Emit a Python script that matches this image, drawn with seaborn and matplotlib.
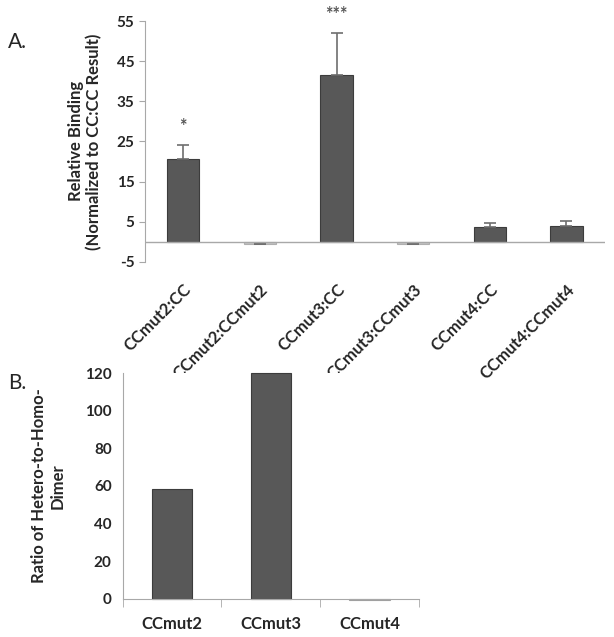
import numpy as np
import pandas as pd
import matplotlib
matplotlib.use("Agg")
import matplotlib.pyplot as plt
import seaborn as sns

# Panel A data
pairs = ["CCmut2:CC", "CCmut2:CCmut2", "CCmut3:CC", "CCmut3:CCmut3", "CCmut4:CC", "CCmut4:CCmut4"]
binding = [20.5, -0.6, 41.5, -0.6, 3.7, 4.0]
binding_err = [3.5, 0.0, 10.5, 0.0, 1.0, 1.2]
stars = ["*", "", "***", "", "", ""]

# Panel B data
mutants = ["CCmut2", "CCmut3", "CCmut4"]
ratio = [58.5, 120.0, -0.8]

sns.set_style("white")
plt.rcParams["font.family"] = ["Lato", "DejaVu Sans"]
plt.rcParams["font.weight"] = "bold"
plt.rcParams["axes.unicode_minus"] = False

dark = "#585858"
light = "#c4c4c4"
axis_col = "#a8a8a8"

fig = plt.figure(figsize=(6.14, 6.37), dpi=100)

# ---- Panel A ----
ax1 = fig.add_axes([0.236, 0.589, 0.749, 0.378])
dfa = pd.DataFrame({"pair": pairs, "val": binding})
cols_a = [dark if v > 0 else light for v in binding]
sns.barplot(data=dfa, x="pair", y="val", hue="pair", palette=cols_a, legend=False,
            width=0.42, edgecolor="#3c3c3c", linewidth=0.8, ax=ax1)
for p, v in zip(ax1.patches, binding):
    if v < 0:
        p.set_edgecolor("#b0b0b0")
xs = np.arange(len(pairs))
ax1.errorbar(xs, binding, yerr=[np.zeros(len(pairs)), binding_err], fmt="none",
             ecolor="#6e6e6e", elinewidth=1.2, capsize=4, capthick=1.2)
for x, v, e, s in zip(xs, binding, binding_err, stars):
    if s:
        ax1.text(x, v + e + 2.5, s, ha="center", va="bottom", fontsize=13, color="#555555")
ax1.set_ylim(-5, 55)
ax1.set_xlim(-0.5, 5.5)
ax1.set_yticks([-5, 5, 15, 25, 35, 45, 55])
ax1.axhline(0, color=axis_col, lw=1)
for sp in ["top", "right", "bottom"]:
    ax1.spines[sp].set_visible(False)
ax1.spines["left"].set_color(axis_col)
ax1.tick_params(axis="y", length=4, color=axis_col, labelsize=11, left=True)
ax1.tick_params(axis="x", length=0, labelsize=12, pad=14)
plt.setp(ax1.get_xticklabels(), rotation=45, ha="right", rotation_mode="anchor", fontweight="bold")
plt.setp(ax1.get_yticklabels(), fontweight="bold")
ax1.set_xlabel("")
ax1.set_ylabel("Relative Binding\n(Normalized to CC:CC Result)", fontsize=12, fontweight="bold", labelpad=10)
fig.text(0.013, 0.925, "A.", fontsize=15, fontweight="normal")

# ---- Panel B ----
ax2 = fig.add_axes([0.2, 0.0597, 0.482, 0.3547])
dfb = pd.DataFrame({"mut": mutants, "val": ratio})
cols_b = [dark if v > 0 else light for v in ratio]
sns.barplot(data=dfb, x="mut", y="val", hue="mut", palette=cols_b, legend=False,
            width=0.41, edgecolor="#3c3c3c", linewidth=0.8, ax=ax2)
for p, v in zip(ax2.patches, ratio):
    p.set_clip_on(False)
    if v < 0:
        p.set_edgecolor("#a0a0a0")
ax2.set_ylim(0, 120)
ax2.set_xlim(-0.5, 2.5)
ax2.set_yticks(np.arange(0, 121, 20))
for sp in ["top", "right"]:
    ax2.spines[sp].set_visible(False)
ax2.spines["left"].set_color(axis_col)
ax2.spines["bottom"].set_color(axis_col)
ax2.set_xticks([-0.5, 0.5, 1.5, 2.5], minor=True)
ax2.tick_params(axis="x", which="minor", length=6, color=axis_col, bottom=True)
ax2.tick_params(axis="x", which="major", length=0, labelsize=12, pad=12)
ax2.tick_params(axis="y", length=0, labelsize=11, pad=8)
plt.setp(ax2.get_xticklabels(), fontweight="bold")
plt.setp(ax2.get_yticklabels(), fontweight="bold")
ax2.set_xlabel("")
ax2.set_ylabel("Ratio of Hetero-to-Homo-\nDimer", fontsize=12, fontweight="bold", labelpad=14)
fig.text(0.013, 0.39, "B.", fontsize=15, fontweight="normal")

fig.savefig("out.png", dpi=100)
